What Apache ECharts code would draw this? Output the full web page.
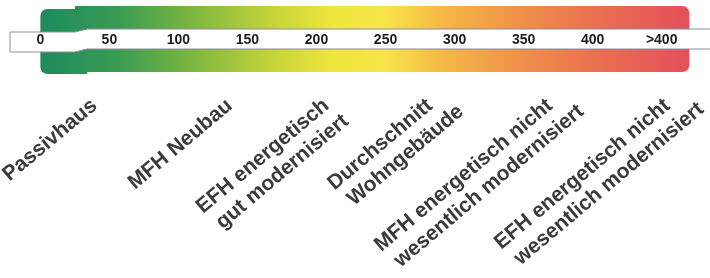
<!DOCTYPE html>
<html>
<head>
<meta charset="utf-8">
<script src="https://cdn.jsdelivr.net/npm/echarts@6/dist/echarts.min.js"></script>
<style>
html, body { margin: 0; padding: 0; background: #fff; }
#main { width: 710px; height: 278px; }
</style>
</head>
<body>
<div id="main"></div>
<script>
// Skala in kWh/m²a
const tickValues = [0, 50, 100, 150, 200, 250, 300, 350, 400, 450];
const tickLabels = ["0", "50", "100", "150", "200", "250", "300", "350", "400", ">400"];
// farbiger Balken von .. bis
const barRange = [0, 470];
// Gebäudetypen, Wert = Ende der ersten Zeile auf der Skala
const buildingNames = [
  "Passivhaus",
  "MFH Neubau",
  "EFH energetisch\ngut modernisiert",
  "Durchschnitt\nWohngebäude",
  "MFH energetisch nicht\nwesentlich modernisiert",
  "EFH energetisch nicht\nwesentlich modernisiert",
];
const buildingPos = [44, 142, 212, 287, 374, 459];

const axisMin = -22;
const axisMax = 485;
const labelFont = 'bold 21px "Liberation Sans"';
const ctx = document.createElement("canvas").getContext("2d");
ctx.font = labelFont;

var myChart = echarts.init(document.getElementById("main"));
myChart.setOption({
  animation: false,
  grid: { left: 10, right: 0, top: 0, bottom: 0 },
  xAxis: { type: "value", min: axisMin, max: axisMax, show: false },
  yAxis: { type: "value", min: 0, max: 278, inverse: true, show: false },
  series: [
    {
      // Farbverlauf (links leicht versetztes Stück wie im Druck)
      type: "custom",
      data: [barRange],
      renderItem: function (params, api) {
        const x0 = api.coord([api.value(0), 0])[0];
        const x1 = api.coord([api.value(1), 0])[0];
        const k1 = api.coord([25, 0])[0];
        const k2 = api.coord([34, 0])[0];
        const fill = new echarts.graphic.LinearGradient(x0, 0, x1, 0, [
          { offset: 0, color: "#1d8a5f" },
          { offset: 0.12, color: "#3a9c52" },
          { offset: 0.25, color: "#86ba3e" },
          { offset: 0.36, color: "#c6d43a" },
          { offset: 0.45, color: "#efe63c" },
          { offset: 0.53, color: "#f8e44a" },
          { offset: 0.63, color: "#f4b545" },
          { offset: 0.76, color: "#ef8a4b" },
          { offset: 0.88, color: "#e96a52" },
          { offset: 1, color: "#e3505a" },
        ], true);
        return {
          type: "group",
          children: [
            {
              type: "rect",
              shape: { x: x0, y: 9, width: k2 - x0, height: 65, r: [7, 0, 0, 7] },
              style: { fill: fill },
            },
            {
              type: "rect",
              shape: { x: k1, y: 6, width: x1 - k1, height: 66, r: [0, 7, 7, 0] },
              style: { fill: fill },
            },
          ],
        };
      },
    },
    {
      // weißes Band mit Zahlen
      type: "custom",
      data: [[axisMin, axisMax]],
      renderItem: function (params, api) {
        const a = api.coord([api.value(0), 0])[0];
        const b = api.coord([api.value(1), 0])[0] + 2;
        const k1 = api.coord([25, 0])[0];
        const k2 = api.coord([34, 0])[0];
        return {
          type: "polygon",
          shape: {
            points: [
              [a, 32], [k1, 32], [k2, 29], [b, 29],
              [b, 49], [k2, 49], [k1, 52], [a, 52],
            ],
          },
          style: { fill: "#fff", stroke: "#8c8c9c", lineWidth: 1 },
        };
      },
    },
    {
      type: "custom",
      data: tickValues.map((v, i) => [v, i]),
      renderItem: function (params, api) {
        const p = api.coord([api.value(0), 40]);
        return {
          type: "text",
          x: p[0],
          y: p[1],
          style: {
            text: tickLabels[api.value(1)],
            font: 'bold 14px "Liberation Sans"',
            fill: "#1c1c1c",
            align: "center",
            verticalAlign: "middle",
          },
        };
      },
    },
    {
      type: "custom",
      data: buildingPos.map((v, i) => [v, i]),
      renderItem: function (params, api) {
        const p = api.coord([api.value(0), 111]);
        const lines = buildingNames[api.value(1)].split("\n");
        const w1 = ctx.measureText(lines[0]).width;
        const children = [
          {
            type: "text",
            x: 0,
            y: 0,
            style: { text: lines[0], font: labelFont, fill: "#3b3b3b", align: "right", verticalAlign: "bottom" },
          },
        ];
        if (lines[1]) {
          children.push({
            type: "text",
            x: -w1 + 5,
            y: 24.5,
            style: { text: lines[1], font: labelFont, fill: "#3b3b3b", align: "left", verticalAlign: "bottom" },
          });
        }
        return { type: "group", x: p[0], y: p[1], rotation: (40 * Math.PI) / 180, children: children };
      },
    },
  ],
});
</script>
</body>
</html>
